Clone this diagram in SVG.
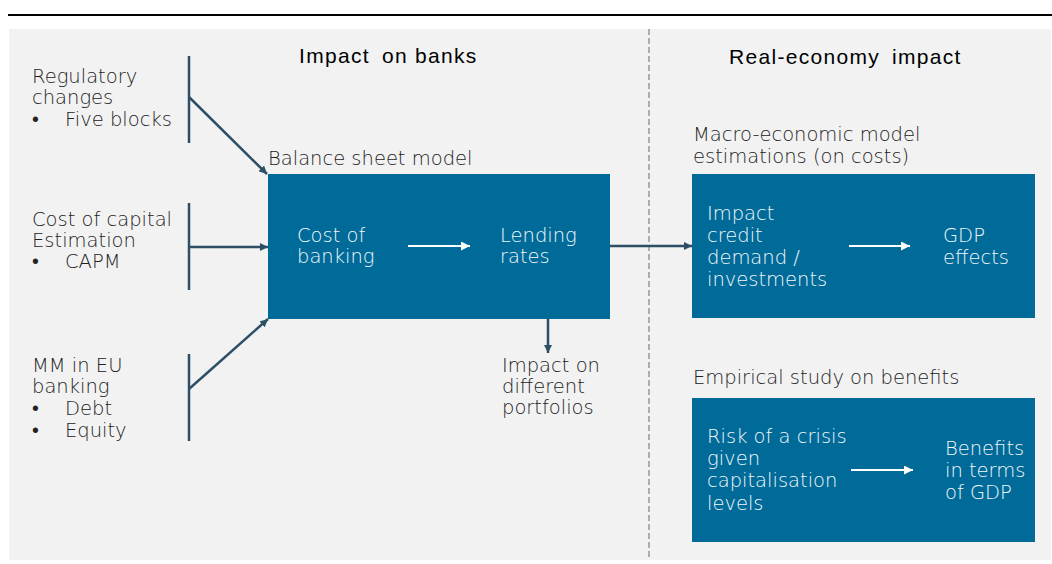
<svg xmlns="http://www.w3.org/2000/svg" width="1052" height="564" viewBox="0 0 1052 564">
<defs>
<style>
.t{font-family:"DejaVu Sans","Liberation Sans",sans-serif;font-size:19.5px;font-weight:300;fill:#222222}
.w{font-family:"DejaVu Sans","Liberation Sans",sans-serif;font-size:19.5px;font-weight:300;fill:#f2f7fa}
.h{font-family:"Liberation Sans",Arial,sans-serif;font-size:21px;letter-spacing:1.3px;fill:#000000}
.box{fill:#006b99}
.bar{stroke:#2c4f66;stroke-width:2.5;fill:none}
.con{stroke:#2c4f66;stroke-width:2.5;fill:none}
.wa{stroke:#ffffff;stroke-width:2;fill:none}
</style>
<marker id="ah" viewBox="0 0 10 10" refX="10" refY="5" markerWidth="8" markerHeight="8" markerUnits="userSpaceOnUse" orient="auto">
<path d="M0,0 L10,5 L0,10 z" fill="#2c4f66"/>
</marker>
<marker id="wh" viewBox="0 0 10 10" refX="10" refY="5" markerWidth="9" markerHeight="9" markerUnits="userSpaceOnUse" orient="auto">
<path d="M0,0 L10,5 L0,10 z" fill="#ffffff"/>
</marker>
</defs>
<rect x="0" y="0" width="1052" height="564" fill="#ffffff"/>
<line x1="8" y1="15" x2="1052" y2="15" stroke="#000000" stroke-width="2"/>
<rect x="9" y="29" width="1042" height="531" fill="#f2f2f2"/>
<line x1="649" y1="29" x2="649" y2="560" stroke="#7a8c99" stroke-width="1.3" stroke-dasharray="6,3"/>

<text class="h" y="63"><tspan x="299">Impact</tspan><tspan x="382">on</tspan><tspan x="415">banks</tspan></text>
<text class="h" y="64"><tspan x="729">Real-economy</tspan><tspan x="892">impact</tspan></text>

<g id="regulatory">
<text class="t" x="32" y="83">Regulatory</text>
<text class="t" x="32" y="104">changes</text>
<text class="t" x="32" y="126">•</text>
<text class="t" x="65" y="126">Five blocks</text>
<line class="bar" x1="189" y1="56" x2="189" y2="143"/>
</g>

<g id="costcapital">
<text class="t" x="32" y="226">Cost of capital</text>
<text class="t" x="32" y="247">Estimation</text>
<text class="t" x="32" y="268">•</text>
<text class="t" x="65" y="268">CAPM</text>
<line class="bar" x1="189" y1="203" x2="189" y2="290"/>
</g>

<g id="mm">
<text class="t" x="32" y="372">MM in EU</text>
<text class="t" x="32" y="393">banking</text>
<text class="t" x="32" y="415">•</text>
<text class="t" x="65" y="415">Debt</text>
<text class="t" x="32" y="437">•</text>
<text class="t" x="65" y="437">Equity</text>
<line class="bar" x1="189" y1="354" x2="189" y2="441"/>
</g>

<g id="balance">
<text class="t" x="268" y="165">Balance sheet model</text>
<rect class="box" x="268" y="174" width="342" height="145"/>
<text class="w" x="297" y="242">Cost of</text>
<text class="w" x="297" y="263">banking</text>
<text class="w" x="500" y="242">Lending</text>
<text class="w" x="500" y="263">rates</text>
<line class="wa" x1="408" y1="246" x2="470" y2="246" marker-end="url(#wh)"/>
</g>

<g id="portfolios">
<text class="t" x="502" y="372">Impact on</text>
<text class="t" x="502" y="393">different</text>
<text class="t" x="502" y="414">portfolios</text>
</g>

<g id="macro">
<text class="t" x="693" y="141">Macro-economic model</text>
<text class="t" x="693" y="163">estimations (on costs)</text>
<rect class="box" x="692" y="174" width="343" height="144"/>
<text class="w" x="707" y="220">Impact</text>
<text class="w" x="707" y="242">credit</text>
<text class="w" x="707" y="264">demand /</text>
<text class="w" x="707" y="286">investments</text>
<text class="w" x="943" y="242">GDP</text>
<text class="w" x="943" y="264">effects</text>
<line class="wa" x1="849" y1="246" x2="910" y2="246" marker-end="url(#wh)"/>
</g>

<g id="empirical">
<text class="t" x="693" y="384">Empirical study on benefits</text>
<rect class="box" x="692" y="398" width="343" height="144"/>
<text class="w" x="707" y="443">Risk of a crisis</text>
<text class="w" x="707" y="465">given</text>
<text class="w" x="707" y="487">capitalisation</text>
<text class="w" x="707" y="510">levels</text>
<text class="w" x="945" y="455">Benefits</text>
<text class="w" x="945" y="477">in terms</text>
<text class="w" x="945" y="499">of GDP</text>
<line class="wa" x1="851" y1="470" x2="913" y2="470" marker-end="url(#wh)"/>
</g>

<g id="connectors">
<line class="con" x1="189" y1="97" x2="267" y2="174" marker-end="url(#ah)"/>
<line class="con" x1="189" y1="247" x2="268" y2="247" marker-end="url(#ah)"/>
<line class="con" x1="189" y1="389" x2="268" y2="319" marker-end="url(#ah)"/>
<line class="con" x1="548" y1="319" x2="548" y2="353" marker-end="url(#ah)"/>
<line class="con" x1="610" y1="246" x2="692" y2="246" marker-end="url(#ah)"/>
</g>
</svg>
